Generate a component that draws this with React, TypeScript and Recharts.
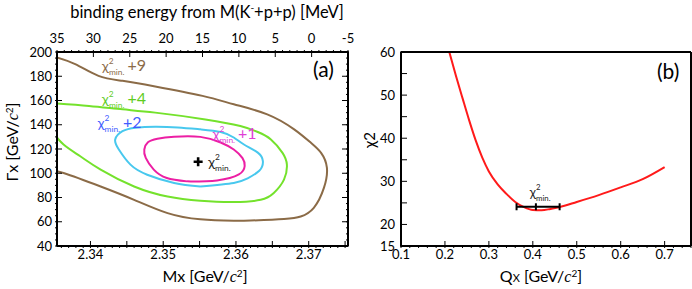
import React from 'react';
import { ComposedChart, Line, Scatter, XAxis, YAxis, ErrorBar } from 'recharts';

const FONT = 'Lato, "Open Sans", Arial, sans-serif';

// ---------- panel (a): chi2 contours in the (Mx, Gamma_x) plane ----------
const kppMass = 2.3704; // M(K- + p + p) [GeV/c2], used for the binding energy axis
const mxDomain: [number, number] = [2.3354, 2.3754];
const widthDomain: [number, number] = [40, 200];
const mxTicks = [2.34, 2.35, 2.36, 2.37];
const widthTicks = [40, 60, 80, 100, 120, 140, 160, 180, 200];
const bindingTicks = [35, 30, 25, 20, 15, 10, 5, 0, -5];

// [Mx, Gamma] pairs
const contourPlus1 = [
  [2.3533, 93.3], [2.3505, 96.1], [2.3487, 103], [2.3476, 112.7], [2.3474, 119.6],
  [2.3479, 125.5], [2.3492, 128.4], [2.3515, 130.1], [2.3551, 130.0], [2.3579, 125.4],
  [2.3597, 119.6], [2.3609, 112.5], [2.3612, 106], [2.3604, 99], [2.3574, 94.1], [2.3533, 93.3],
];
const contourPlus2 = [
  [2.3551, 89.1], [2.3515, 92.0], [2.3478, 98.8], [2.3455, 107.1], [2.3439, 119.6],
  [2.3434, 127.9], [2.3444, 134.7], [2.3462, 137.6], [2.3489, 138.4], [2.3520, 137.8],
  [2.3551, 136.2], [2.3579, 134.0], [2.3597, 129.5], [2.3611, 123.7], [2.3630, 117],
  [2.3637, 110], [2.3632, 102], [2.3615, 95.5], [2.3597, 92.0], [2.3551, 89.1],
];
const contourPlus4 = [
  [2.3348, 157.8], [2.3398, 155.5], [2.3444, 152.7], [2.3489, 150.0], [2.3558, 144.4],
  [2.3606, 138.9], [2.3630, 134], [2.3648, 127.9], [2.3664, 116.8], [2.3670, 107.1],
  [2.3666, 94.7], [2.3652, 83.7], [2.3634, 78.1], [2.3597, 76.2], [2.3551, 77.3],
  [2.3506, 80.8], [2.3460, 89.1], [2.3414, 103.0], [2.3386, 114.0], [2.3363, 123.7], [2.3348, 134],
];
const contourPlus9 = [
  [2.3348, 196.5], [2.3379, 190.0], [2.3411, 180.3], [2.3444, 176.2], [2.3489, 171.6],
  [2.3554, 163.8], [2.3597, 156.9], [2.3643, 148.6], [2.3680, 136.2], [2.3703, 125.1],
  [2.3717, 116.8], [2.3725, 104.6], [2.3721, 88.1], [2.3707, 71.5], [2.3689, 64.3],
  [2.3666, 62.3], [2.3620, 61.0], [2.3597, 60.8], [2.3551, 62.0], [2.3506, 67.1],
  [2.3460, 78.1], [2.3414, 89.1], [2.3363, 100.2], [2.3348, 101.8],
];
const bestPoint = [2.3548, 109.5];

const contourLabels = [
  { mx: 2.3416, g: 184.3, color: '#8b6b47', suffix: '+9' },
  { mx: 2.3416, g: 157.3, color: '#5fcc1f', suffix: '+4' },
  { mx: 2.3410, g: 137.3, color: '#3f5cff', suffix: '+2' },
  { mx: 2.3568, g: 128.3, color: '#e03ed6', suffix: '+1' },
  { mx: 2.3562, g: 105.2, color: '#222', suffix: '' },
];

// ---------- panel (b): chi2 vs Qx ----------
const qxDomain: [number, number] = [0.1, 0.76];
const chi2Domain: [number, number] = [15, 60];
const qxTicks = [0.1, 0.2, 0.3, 0.4, 0.5, 0.6, 0.7];
const chi2Ticks = [15, 20, 30, 40, 50, 60];
const qxValues = [0.205, 0.225, 0.24, 0.255, 0.27, 0.285, 0.3, 0.32, 0.34, 0.36, 0.38, 0.4, 0.42, 0.44, 0.46, 0.5, 0.55, 0.6, 0.65, 0.7];
const chi2Values = [61.8, 54.5, 49.3, 44.2, 39.5, 35.5, 32.3, 29.3, 27.1, 25.2, 24.0, 23.35, 23.3, 23.6, 24.0, 25.2, 26.8, 28.6, 30.5, 33.3];
const qxBest = 0.407;
const qxErr = [0.044, 0.054];
const chi2AtBest = 24.1;

const range = (a: number, b: number, step: number) => {
  const out: number[] = [];
  for (let v = a; v <= b + step / 2; v += step) out.push(+v.toFixed(6));
  return out;
};

const toPts = (arr: number[][]) => arr.map(([mx, g]) => ({ mx, g }));
const curveB = qxValues.map((q, i) => ({ q, c: chi2Values[i] }));

const tickStyle = { fontSize: 13, fill: '#000', fontFamily: FONT };
const frame = { stroke: '#000', strokeWidth: 2 };
const nothing = () => <g />;

const ChiText = ({ x, y, color, suffix, size = 14 }: any) => (
  <text x={x} y={y} fill={color} fontFamily={FONT} fontSize={size}>
    <tspan>χ</tspan>
    <tspan dy={-7} fontSize={size * 0.6}>2</tspan>
    <tspan dx={-size * 0.34} dy={11} fontSize={size * 0.6}>min.</tspan>
    {suffix ? <tspan dx={3} dy={-4} fontSize={size + 2}>{suffix}</tspan> : null}
  </text>
);

// tick-only x axis, inward ticks (negative tickSize), plus an invisible series so it gets a domain
const tickX = (
  id: string, orientation: 'top' | 'bottom', dataKey: string, yId: string, yKey: string,
  domain: [number, number], ticks: number[], size: number, line = false,
) => [
  <XAxis
    key={id}
    xAxisId={id}
    dataKey={dataKey}
    orientation={orientation}
    type="number"
    domain={domain}
    allowDataOverflow
    ticks={ticks}
    interval={0}
    height={1}
    tick={nothing}
    tickSize={-size}
    stroke="#000"
    tickLine={size > 0 ? { stroke: '#000', strokeWidth: 1 } : false}
    axisLine={line ? frame : false}
  />,
  <Scatter
    key={id + '-s'}
    xAxisId={id}
    yAxisId={yId}
    data={[{ [dataKey]: (domain[0] + domain[1]) / 2, [yKey]: 0 }]}
    shape={nothing}
    isAnimationActive={false}
  />,
];

const tickY = (
  id: string, orientation: 'left' | 'right', dataKey: string, xId: string, xKey: string,
  domain: [number, number], ticks: number[], size: number, line = false, xAt = 0,
) => [
  <YAxis
    key={id}
    yAxisId={id}
    dataKey={dataKey}
    orientation={orientation}
    type="number"
    domain={domain}
    allowDataOverflow
    ticks={ticks}
    interval={0}
    width={1}
    tick={nothing}
    tickSize={-size}
    stroke="#000"
    tickLine={size > 0 ? { stroke: '#000', strokeWidth: 1 } : false}
    axisLine={line ? frame : false}
  />,
  <Scatter
    key={id + '-s'}
    xAxisId={xId}
    yAxisId={id}
    data={[{ [xKey]: xAt, [dataKey]: (domain[0] + domain[1]) / 2 }]}
    shape={nothing}
    isAnimationActive={false}
  />,
];

const topTickValues = bindingTicks.map((b) => kppMass - b / 1000);
const topMinorValues = range(-5, 35, 1).map((b) => kppMass - b / 1000);

const PanelA = () => (
  <ComposedChart width={360} height={289} margin={{ top: 49, right: 10, bottom: 40, left: 54 }}>
    <XAxis
      xAxisId="b" dataKey="mx" type="number" domain={mxDomain} allowDataOverflow
      ticks={mxTicks} interval={0} height={1} tickSize={0} tickMargin={4} tickLine={false}
      tick={tickStyle} axisLine={frame} tickFormatter={(v) => v.toFixed(2)}
    />
    {tickX('bM', 'bottom', 'mx', 'l', 'g', mxDomain, range(2.34, 2.375, 0.005), 6)}
    {tickX('bm', 'bottom', 'mx', 'l', 'g', mxDomain, range(2.336, 2.375, 0.001), 3)}
    <XAxis
      xAxisId="t" dataKey="mx" orientation="top" type="number" domain={mxDomain} allowDataOverflow
      ticks={topTickValues} interval={0} height={1} tickLine={false}
      tickSize={0} tickMargin={9} tick={tickStyle} axisLine={frame}
      tickFormatter={(v) => String(Math.round((kppMass - v) * 1000))}
    />
    <Scatter xAxisId="t" yAxisId="l" data={[{ mx: 2.355, g: 100 }]} shape={nothing} isAnimationActive={false} />
    {tickX('tM', 'top', 'mx', 'l', 'g', mxDomain, topTickValues, 6)}
    {tickX('tm', 'top', 'mx', 'l', 'g', mxDomain, topMinorValues, 3)}
    <YAxis
      yAxisId="l" dataKey="g" type="number" domain={widthDomain} allowDataOverflow
      ticks={widthTicks} interval={0} width={1} tickSize={0} tickMargin={5} tickLine={false}
      tick={tickStyle} axisLine={frame}
    />
    {tickY('lM', 'left', 'g', 'b', 'mx', widthDomain, widthTicks, 6, false, 2.355)}
    {tickY('lm', 'left', 'g', 'b', 'mx', widthDomain, range(40, 200, 5), 3, false, 2.355)}
    {tickY('rM', 'right', 'g', 'b', 'mx', widthDomain, widthTicks, 6, true, 2.355)}
    {tickY('rm', 'right', 'g', 'b', 'mx', widthDomain, range(40, 200, 5), 3, false, 2.355)}

    <Line xAxisId="b" yAxisId="l" data={toPts(contourPlus9)} dataKey="g" type="natural" stroke="#8b6b47" strokeWidth={2} dot={false} isAnimationActive={false} />
    <Line xAxisId="b" yAxisId="l" data={toPts(contourPlus4)} dataKey="g" type="natural" stroke="#74e22c" strokeWidth={2} dot={false} isAnimationActive={false} />
    <Line xAxisId="b" yAxisId="l" data={toPts(contourPlus2)} dataKey="g" type="natural" stroke="#48c8ee" strokeWidth={2} dot={false} isAnimationActive={false} />
    <Line xAxisId="b" yAxisId="l" data={toPts(contourPlus1)} dataKey="g" type="natural" stroke="#ec1fa4" strokeWidth={2} dot={false} isAnimationActive={false} />
    <Scatter
      xAxisId="b" yAxisId="l" data={[{ mx: bestPoint[0], g: bestPoint[1] }]} isAnimationActive={false}
      shape={(p: any) => (
        <path d={`M${p.cx - 4.5},${p.cy}h9M${p.cx},${p.cy - 4.5}v9`} stroke="#000" strokeWidth={2.6} />
      )}
    />
    <Scatter
      xAxisId="b" yAxisId="l" data={contourLabels} isAnimationActive={false}
      shape={(p: any) => <ChiText x={p.cx} y={p.cy} color={p.payload.color} suffix={p.payload.suffix} />}
    />
  </ComposedChart>
);

const PanelB = () => (
  <ComposedChart width={332} height={289} margin={{ top: 51, right: 0, bottom: 40, left: 39 }}>
    <XAxis
      xAxisId="b" dataKey="q" type="number" domain={qxDomain} allowDataOverflow
      ticks={qxTicks} interval={0} height={1} tickSize={0} tickMargin={4} tickLine={false}
      tick={tickStyle} axisLine={frame} tickFormatter={(v) => v.toFixed(1)}
    />
    {tickX('bM', 'bottom', 'q', 'l', 'c', qxDomain, qxTicks, 6)}
    {tickX('bm', 'bottom', 'q', 'l', 'c', qxDomain, range(0.1, 0.76, 0.02), 3)}
    {tickX('t', 'top', 'q', 'l', 'c', qxDomain, [0.1], 0, true)}
    <YAxis
      yAxisId="l" dataKey="c" type="number" domain={chi2Domain} allowDataOverflow
      ticks={chi2Ticks} interval={0} width={1} tickSize={0} tickMargin={6} tickLine={false}
      tick={tickStyle} axisLine={frame}
    />
    {tickY('lm', 'left', 'c', 'b', 'q', chi2Domain, range(15, 60, 5), 7, false, 0.4)}
    {tickY('r', 'right', 'c', 'b', 'q', chi2Domain, [15], 0, true, 0.4)}

    <Line xAxisId="b" yAxisId="l" data={curveB} dataKey="c" type="monotone" stroke="#ff1a1a" strokeWidth={2} dot={false} isAnimationActive={false} />
    <Scatter
      xAxisId="b" yAxisId="l" data={[{ q: qxBest, c: chi2AtBest, err: qxErr }]} isAnimationActive={false}
      shape={(p: any) => <path d={`M${p.cx},${p.cy - 3.5}v7`} stroke="#000" strokeWidth={2} />}
    >
      <ErrorBar dataKey="err" direction="x" width={3.5} stroke="#000" strokeWidth={2} />
    </Scatter>
    <Scatter
      xAxisId="b" yAxisId="l" data={[{ q: 0.393, c: 26.4 }]} isAnimationActive={false}
      shape={(p: any) => <ChiText x={p.cx} y={p.cy} color="#222" suffix="" size={13} />}
    />
  </ComposedChart>
);

const Titles = () => (
  <svg width={692} height={289} style={{ position: 'absolute', left: 0, top: 0, pointerEvents: 'none' }} fontFamily={FONT}>
    <text x={207} y={18} textAnchor="middle" fontSize={16.5}>
      binding energy from M(K<tspan dy={-7} fontSize={10}>-</tspan><tspan dy={7}>+p+p) [MeV]</tspan>
    </text>
    <text x={205} y={282} textAnchor="middle" fontSize={16}>
      Mx [GeV/<tspan fontFamily="serif" fontStyle="italic">c</tspan><tspan dy={-5} fontSize={10}>2</tspan><tspan dy={5}>]</tspan>
    </text>
    <text transform="translate(18,142) rotate(-90)" textAnchor="middle" fontSize={16}>
      Γx [GeV/<tspan fontFamily="serif" fontStyle="italic">c</tspan><tspan dy={-5} fontSize={10}>2</tspan><tspan dy={5}>]</tspan>
    </text>
    <text x={313} y={77} fontSize={21}>(a)</text>
    <text x={541} y={282} textAnchor="middle" fontSize={16}>
      Q<tspan fontSize={11}>X</tspan> [GeV/<tspan fontFamily="serif" fontStyle="italic">c</tspan><tspan dy={-5} fontSize={10}>2</tspan><tspan dy={5}>]</tspan>
    </text>
    <text transform="translate(375,140) rotate(-90)" textAnchor="middle" fontSize={15}>χ2</text>
    <text x={657} y={79} fontSize={21}>(b)</text>
  </svg>
);

export default function App() {
  return (
    <div style={{ position: 'absolute', left: 0, top: 0, width: 692, height: 289, background: '#fff', overflow: 'hidden' }}>
      <div style={{ position: 'absolute', left: 0, top: 0 }}>
        <PanelA />
      </div>
      <div style={{ position: 'absolute', left: 360, top: 0 }}>
        <PanelB />
      </div>
      <Titles />
    </div>
  );
}
